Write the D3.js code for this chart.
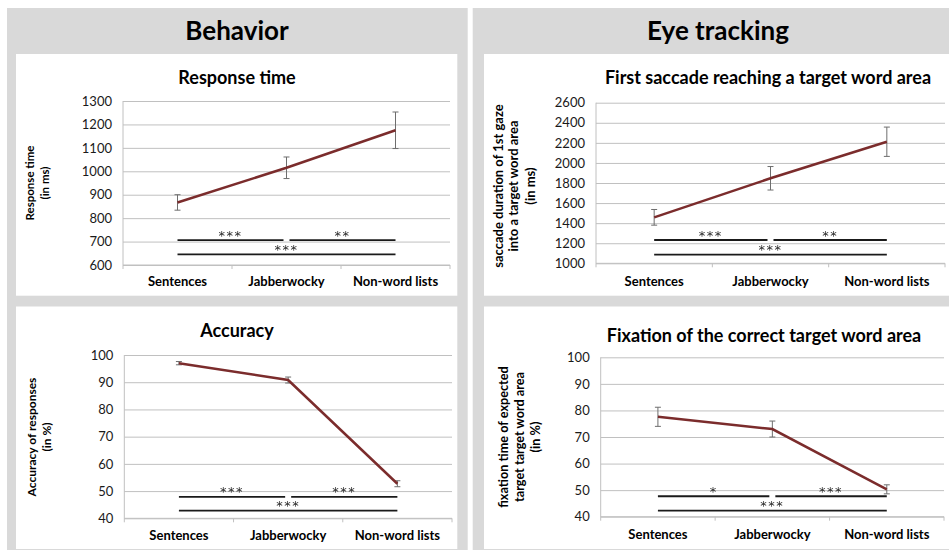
<!DOCTYPE html>
<html>
<head>
<meta charset="utf-8">
<script src="https://cdn.jsdelivr.net/npm/d3@7"></script>
<style>
  body { margin: 0; background: #fff; }
  svg { display: block; font-family: Lato, "Open Sans", sans-serif; }
  .stars { filter: grayscale(100%); }
</style>
</head>
<body>
<svg id="fig" width="949" height="550"></svg>
<script>
// ---- data ----
const categories = ["Sentences", "Jabberwocky", "Non-word lists"];

const responseTime = [867, 1015, 1175];
const responseTimeErr = [33, 46, 78];
const responseTimeTicks = [600, 700, 800, 900, 1000, 1100, 1200, 1300];

const saccadeDuration = [1458, 1847, 2211];
const saccadeErr = [78, 117, 146];
const saccadeTicks = [1000, 1200, 1400, 1600, 1800, 2000, 2200, 2400, 2600];

const accuracy = [97.0, 90.8, 52.7];
const accuracyErr = [0.6, 1.1, 1.1];

const fixation = [77.6, 73.0, 50.3];
const fixationErr = [3.6, 3.0, 1.7];

const percentTicks = [40, 50, 60, 70, 80, 90, 100];

// pairwise comparisons: [from category, to category, significance, bar level in data units]
const responseTimeSig = [[0, 1, "***", 706], [1, 2, "**", 706], [0, 2, "***", 645]];
const saccadeSig = [[0, 1, "***", 1232], [1, 2, "**", 1232], [0, 2, "***", 1086]];
const accuracySig = [[0, 1, "***", 47.9], [1, 2, "***", 47.9], [0, 2, "***", 42.8]];
const fixationSig = [[0, 1, "*", 47.7], [1, 2, "***", 47.7], [0, 2, "***", 42.3]];

// ---- layout ----
const svg = d3.select("#fig");
const GREY = "#d9d9d9";
const LINE = "#7b2c2c";
const GRID = "#c0c0c0";

// grey backdrops for the two halves and white chart cards
svg.append("rect").attr("x", 7).attr("y", 8).attr("width", 460.7).attr("height", 542).attr("fill", GREY);
svg.append("rect").attr("x", 472.7).attr("y", 8).attr("width", 476.3).attr("height", 542).attr("fill", GREY);
[[16, 54, 441.3, 241.7], [16, 306.5, 441.3, 242.5], [484, 54, 465, 241.7], [484, 306.5, 465, 242.5]]
  .forEach(([x, y, w, h]) => svg.append("rect").attr("x", x).attr("y", y).attr("width", w).attr("height", h).attr("fill", "#fff"));

// section headers
svg.append("text").attr("x", 237).attr("y", 40).attr("text-anchor", "middle")
  .attr("font-size", 26).attr("font-weight", 700).attr("fill", "#000").text("Behavior");
svg.append("text").attr("x", 718).attr("y", 40).attr("text-anchor", "middle")
  .attr("font-size", 26).attr("font-weight", 700).attr("fill", "#000").text("Eye tracking");

const panels = [
  { title: "Response time", titleX: 237, titleY: 83.5,
    yLabel: ["Response time", "(in ms)"], yLabelSize: 11.5, yLabelX: [34, 49], yLabelY: 183,
    values: responseTime, errors: responseTimeErr, ticks: responseTimeTicks, sig: responseTimeSig,
    x0: 123, x1: 450, y0: 101, y1: 265, xLabelY: 286 },
  { title: "First saccade reaching a target word area", titleX: 768, titleY: 83.5,
    yLabel: ["saccade duration of 1st gaze", "into a target word area", "(in ms)"], yLabelSize: 13,
    yLabelX: [502.5, 518, 534.5], yLabelY: 186,
    values: saccadeDuration, errors: saccadeErr, ticks: saccadeTicks, sig: saccadeSig,
    x0: 596, x1: 945, y0: 102.7, y1: 263.3, xLabelY: 286 },
  { title: "Accuracy", titleX: 237, titleY: 336.7,
    yLabel: ["Accuracy of responses", "(in %)"], yLabelSize: 12, yLabelX: [36, 51], yLabelY: 437,
    values: accuracy, errors: accuracyErr, ticks: percentTicks, sig: accuracySig,
    x0: 124.3, x1: 452, y0: 355, y1: 518.3, xLabelY: 540 },
  { title: "Fixation of the correct target word area", titleX: 764, titleY: 341.7,
    yLabel: ["fixation time of expected", "target target word area", "(in %)"], yLabelSize: 12.7,
    yLabelX: [507.5, 524, 539.5], yLabelY: 437,
    values: fixation, errors: fixationErr, ticks: percentTicks, sig: fixationSig,
    x0: 600.7, x1: 944, y0: 357.3, y1: 516.7, xLabelY: 539.5 }
];

panels.forEach(p => {
  const g = svg.append("g");
  const x = d3.scaleBand().domain(categories).range([p.x0, p.x1]).paddingInner(0).paddingOuter(0);
  const y = d3.scaleLinear().domain(d3.extent(p.ticks)).range([p.y1, p.y0]);
  const cx = i => x(categories[i]) + x.bandwidth() / 2;

  // title
  g.append("text").attr("x", p.titleX).attr("y", p.titleY).attr("text-anchor", "middle")
    .attr("font-size", 18).attr("font-weight", 700).attr("fill", "#000").text(p.title);

  // gridlines + value labels
  const yAxis = g.append("g").attr("transform", `translate(${p.x0},0)`)
    .call(d3.axisLeft(y).tickValues(p.ticks).tickSize(-(p.x1 - p.x0)).tickPadding(11).tickFormat(d3.format("d")));
  yAxis.select(".domain").remove();
  yAxis.selectAll(".tick line").attr("stroke", GRID).attr("stroke-width", 1);
  yAxis.selectAll(".tick text").attr("font-size", 13).attr("font-family", "Lato, sans-serif").attr("fill", "#1a1a1a");

  // axis lines
  g.append("line").attr("x1", p.x0).attr("x2", p.x0).attr("y1", p.y0).attr("y2", p.y1 + 4)
    .attr("stroke", GRID).attr("stroke-width", 1);
  g.append("line").attr("x1", p.x0).attr("x2", p.x1).attr("y1", p.y1).attr("y2", p.y1)
    .attr("stroke", GRID).attr("stroke-width", 1);
  // category boundary ticks
  const bounds = categories.map(c => x(c)).concat([p.x1]).slice(1);
  g.selectAll(null).data(bounds).join("line")
    .attr("x1", d => d).attr("x2", d => d).attr("y1", p.y1).attr("y2", p.y1 + 4)
    .attr("stroke", GRID).attr("stroke-width", 1);

  // category labels
  const xAxis = g.append("g").attr("transform", `translate(0,${p.y1})`)
    .call(d3.axisBottom(x).tickSize(0).tickPadding(0));
  xAxis.select(".domain").remove();
  xAxis.selectAll(".tick text").attr("y", p.xLabelY - p.y1).attr("dy", 0)
    .attr("font-size", 13).attr("font-weight", 700).attr("font-family", "Lato, sans-serif").attr("fill", "#000");

  // y-axis title (rotated, multi-line)
  p.yLabel.forEach((t, k) => {
    g.append("text")
      .attr("transform", `translate(${p.yLabelX[k]},${p.yLabelY}) rotate(-90)`)
      .attr("text-anchor", "middle").attr("font-size", p.yLabelSize).attr("font-weight", 700).attr("fill", "#000")
      .text(t);
  });

  // significance bars
  const mid = cx(1);
  const stars = g.append("g").attr("class", "stars");
  p.sig.forEach(([a, b, label, level]) => {
    const xa = a === 1 ? mid + 3 : cx(a);
    const xb = b === 1 ? mid - 3 : cx(b);
    const yy = y(level);
    g.append("line").attr("x1", xa).attr("x2", xb).attr("y1", yy).attr("y2", yy)
      .attr("stroke", "#1a1a1a").attr("stroke-width", 1.8);
    stars.append("text").attr("x", (xa + xb) / 2).attr("y", yy - 0.5).attr("text-anchor", "middle")
      .attr("font-family", "'DejaVu Sans', sans-serif").attr("font-size", 13)
      .attr("letter-spacing", 1.5).attr("fill", "#2a2a2a").text(label);
  });

  // error bars
  p.values.forEach((v, i) => {
    const xc = cx(i), top = y(v + p.errors[i]), bot = y(v - p.errors[i]);
    g.append("line").attr("x1", xc).attr("x2", xc).attr("y1", top).attr("y2", bot).attr("stroke", "#6e6e6e").attr("stroke-width", 1);
    [top, bot].forEach(yy => g.append("line").attr("x1", xc - 3).attr("x2", xc + 3).attr("y1", yy).attr("y2", yy)
      .attr("stroke", "#6e6e6e").attr("stroke-width", 1));
  });

  // mean line
  g.append("path").datum(p.values)
    .attr("d", d3.line().x((d, i) => cx(i)).y(d => y(d)))
    .attr("fill", "none").attr("stroke", LINE).attr("stroke-width", 2.5);
});
</script>
</body>
</html>
